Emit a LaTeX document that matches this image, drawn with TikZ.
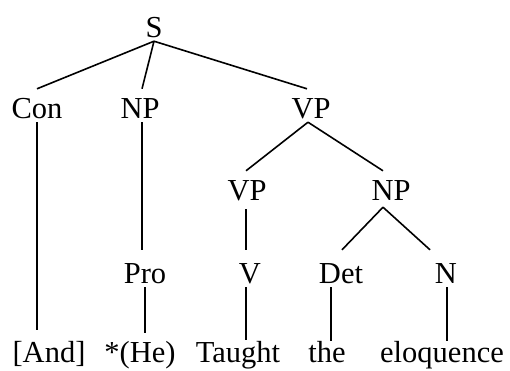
\documentclass[tikz,border=0pt]{standalone}
\usepackage{fontspec}
\setmainfont{Liberation Serif}
\begin{document}
\begin{tikzpicture}[x=1pt,y=-1pt,
  lab/.style={anchor=base,inner xsep=0pt,inner ysep=4pt,text height=21pt,text depth=0pt,font=\fontsize{30.5}{36}\selectfont},
  br/.style={line width=1.6pt}]
\useasboundingbox (0,0) rectangle (510,370);
% labels
\node[lab] (S) at (154,37) {S};
\node[lab] (Con) at (37,118) {Con};
\node[lab] (NP) at (140,118) {NP};
\node[lab] (VP) at (311,118) {VP};
\node[lab] (VPb) at (247,200) {VP};
\node[lab] (NPb) at (391,200) {NP};
\node[lab] (Pro) at (145,283) {Pro};
\node[lab] (V) at (250,283) {V};
\node[lab] (Det) at (341,283) {Det};
\node[lab] (N) at (446,283) {N};
\node[lab] (And) at (49,362) {[And]};
\node[lab] (He) at (140,362) {*(He)};
\node[lab] (Taught) at (238,362) {Taught};
\node[lab] (the) at (327,362) {the};
\node[lab] (elo) at (442,362) {eloquence};
% branches
\draw[br] (S.south) -- ([yshift=4pt]Con.north);
\draw[br] (S.south) -- ([xshift=2pt,yshift=4pt]NP.north);
\draw[br] (S.south) -- ([xshift=-4pt,yshift=4pt]VP.north);
\draw[br] (Con.south) -- ([yshift=7pt]Con.south |- And.north);
\draw[br] ([xshift=2pt]NP.south) -- ([xshift=2pt,yshift=8pt]NP.south |- Pro.north);
\draw[br] ([xshift=-3pt]VP.south) -- ([xshift=-1pt,yshift=4pt]VPb.north);
\draw[br] ([xshift=-3pt]VP.south) -- ([xshift=-8pt,yshift=4pt]NPb.north);
\draw[br] ([xshift=-1pt,yshift=-5pt]VPb.south) -- ([xshift=-1pt,yshift=8pt]VPb.south |- V.north);
\draw[br] ([xshift=-8pt,yshift=-3pt]NPb.south) -- ([xshift=1pt,yshift=8pt]Det.north);
\draw[br] ([xshift=-8pt,yshift=-3pt]NPb.south) -- ([xshift=-16pt,yshift=8pt]N.north);
\draw[br] (Pro.south) -- ([yshift=4pt]Pro.south |- He.north);
\draw[br] ([xshift=-4pt]V.south) -- ([xshift=-4pt,yshift=-3pt]V.south |- Taught.north);
\draw[br] ([xshift=-10pt]Det.south) -- ([xshift=-10pt,yshift=-4pt]Det.south |- the.north);
\draw[br] ([xshift=1pt]N.south) -- ([xshift=1pt,yshift=-4pt]N.south |- elo.north);
\end{tikzpicture}
\end{document}
